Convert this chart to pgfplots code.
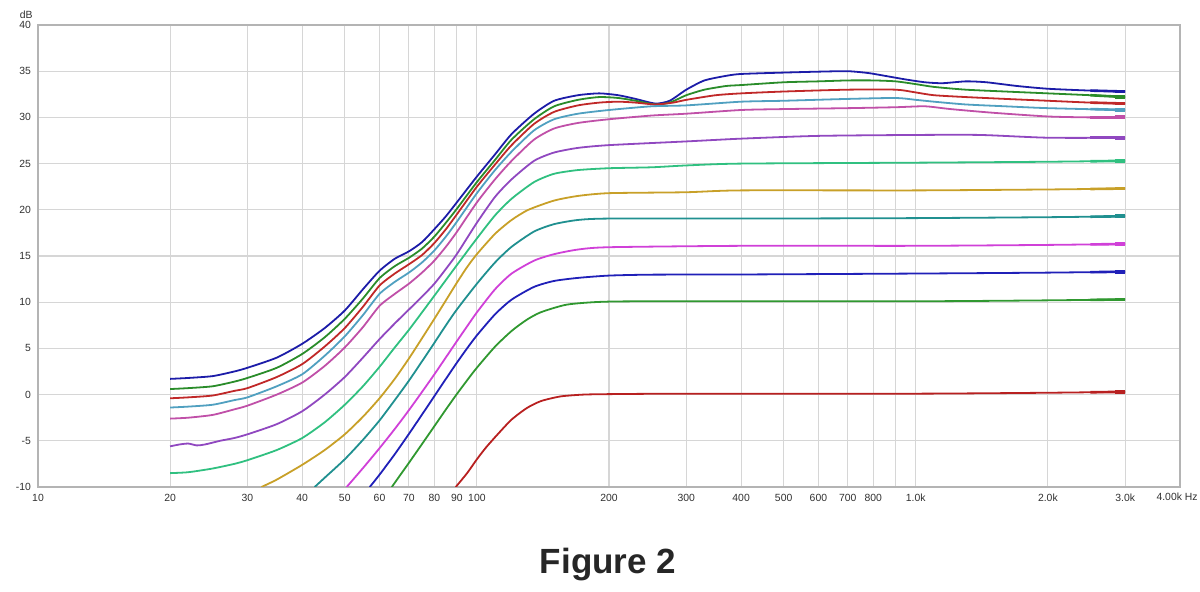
\documentclass[border=0pt]{standalone}
\usepackage{fontspec}
\setmainfont{Liberation Sans}
\usepackage{pgfplots}
\pgfplotsset{compat=1.18}
\definecolor{gridgray}{HTML}{D6D6D6}
\definecolor{framegray}{HTML}{B4B4B4}
\definecolor{labelgray}{HTML}{303030}
\definecolor{cA}{HTML}{1C1CA8}
\definecolor{cB}{HTML}{2A8C2A}
\definecolor{cC}{HTML}{C02828}
\definecolor{cD}{HTML}{50A0C0}
\definecolor{cE}{HTML}{C050A8}
\definecolor{cF}{HTML}{9048C0}
\definecolor{cG}{HTML}{30C080}
\definecolor{cH}{HTML}{C8A028}
\definecolor{cI}{HTML}{209090}
\definecolor{cJ}{HTML}{D040D8}
\definecolor{cK}{HTML}{2020B8}
\definecolor{cL}{HTML}{309830}
\definecolor{cM}{HTML}{B82020}
\newcommand\fz[3]{%
  \addplot[#1, line width=1.3pt, smooth=false] coordinates {(2500,#2) (3000,#3)};
  \addplot[#1, line width=1.9pt, smooth=false] coordinates {(2850,#3) (3000,#3)};}
\begin{document}
\begin{tikzpicture}[x=1pt,y=1pt]
\begin{axis}[
  at={(0,0)}, anchor=south west,
  scale only axis, width=571pt, height=231pt,
  xmode=log, log basis x=10,
  xmin=10, xmax=4000, ymin=-10, ymax=40,
  xtick={10,20,30,40,50,60,70,80,90,100,200,300,400,500,600,700,800,900,1000,2000,3000,4000},
  xticklabels={10,20,30,40,50,60,70,80,90,100,200,300,400,500,600,700,800,{},1.0k,2.0k,3.0k,{}},
  ytick={-10,-5,0,5,10,15,20,25,30,35,40},
  yticklabels={-10,-5,0,5,10,15,20,25,30,35,40},
  minor xtick={},
  major tick length=0pt,
  grid=major,
  major grid style={color=gridgray, line width=0.6pt},
  axis line style={color=framegray, line width=1.2pt},
  tick label style={font=\fontsize{5.2}{6}\selectfont, text=labelgray},
  every axis plot/.append style={line width=0.9pt, smooth, tension=0.4},
  clip=true,
]
% 1 dark blue
\addplot[cA] coordinates {(20,1.7)(22,1.8)(25,2.0)(28,2.5)(30,2.9)(35,4.0)(40,5.5)(45,7.2)(50,9.1)(55,11.4)(60,13.4)(65,14.7)(70,15.5)(75,16.5)(80,17.9)(85,19.3)(90,20.8)(100,23.6)(110,26.0)(120,28.2)(135,30.4)(150,31.8)(170,32.4)(190,32.6)(210,32.4)(230,32.0)(255,31.5)(275,31.8)(300,33.0)(330,34.0)(370,34.5)(400,34.7)(500,34.85)(600,34.95)(700,35.0)(780,34.8)(850,34.5)(950,34.1)(1050,33.8)(1150,33.7)(1300,33.9)(1450,33.8)(1700,33.4)(2000,33.1)(2500,32.9)(3000,32.8)};
% 2 green
\addplot[cB] coordinates {(20,0.6)(22,0.7)(25,0.9)(28,1.4)(30,1.8)(35,2.9)(40,4.4)(45,6.2)(50,8.2)(55,10.4)(60,12.6)(65,13.9)(70,14.8)(75,15.8)(80,17.1)(85,18.6)(90,20.1)(100,23.0)(110,25.4)(120,27.6)(135,29.8)(150,31.2)(170,31.9)(190,32.2)(210,32.1)(230,31.8)(255,31.4)(275,31.6)(300,32.4)(330,33.0)(370,33.4)(400,33.5)(500,33.8)(600,33.9)(700,34.0)(800,34.0)(900,33.9)(1000,33.6)(1100,33.3)(1300,33.0)(1600,32.8)(2000,32.6)(2500,32.4)(3000,32.2)};
% 3 red
\addplot[cC] coordinates {(20,-0.4)(22,-0.3)(25,-0.1)(28,0.4)(30,0.7)(35,1.9)(40,3.3)(45,5.2)(50,7.2)(55,9.5)(60,11.8)(65,13.1)(70,14.1)(75,15.1)(80,16.4)(85,17.9)(90,19.5)(100,22.5)(110,24.9)(120,27.0)(135,29.3)(150,30.6)(170,31.3)(190,31.6)(210,31.7)(230,31.6)(255,31.4)(280,31.6)(300,31.9)(350,32.4)(400,32.6)(500,32.8)(700,33.0)(900,33.0)(1000,32.7)(1100,32.4)(1300,32.2)(1600,32.0)(2000,31.8)(2500,31.6)(3000,31.5)};
% 4 light blue
\addplot[cD] coordinates {(20,-1.4)(22,-1.3)(25,-1.1)(28,-0.6)(30,-0.3)(35,0.9)(40,2.2)(45,4.2)(50,6.3)(55,8.6)(60,10.9)(65,12.2)(70,13.2)(75,14.3)(80,15.6)(85,17.1)(90,18.7)(100,21.8)(110,24.3)(120,26.3)(135,28.6)(150,29.8)(170,30.4)(200,30.8)(250,31.2)(300,31.3)(400,31.7)(500,31.8)(700,32.0)(900,32.1)(1000,31.9)(1100,31.7)(1300,31.4)(1600,31.2)(2000,31.0)(3000,30.8)};
% 5 mauve
\addplot[cE] coordinates {(20,-2.6)(22,-2.5)(25,-2.2)(28,-1.6)(30,-1.2)(35,0.0)(40,1.3)(45,3.1)(50,5.1)(55,7.3)(60,9.6)(65,10.9)(70,12.0)(75,13.2)(80,14.5)(85,16.0)(90,17.6)(100,20.8)(110,23.3)(120,25.3)(135,27.6)(150,28.8)(170,29.4)(200,29.8)(250,30.2)(300,30.4)(400,30.8)(500,30.9)(700,31.0)(900,31.1)(1050,31.2)(1200,30.9)(1500,30.5)(2000,30.1)(2500,30.0)(3000,30.0)};
% 6 purple
\addplot[cF] coordinates {(20,-5.6)(21,-5.4)(22,-5.3)(23,-5.5)(24,-5.4)(26,-5.0)(28,-4.7)(30,-4.3)(35,-3.2)(40,-1.8)(45,0.0)(50,1.9)(55,4.0)(60,6.0)(65,7.7)(70,9.2)(75,10.6)(80,12.0)(85,13.6)(90,15.2)(100,18.6)(110,21.4)(120,23.3)(135,25.3)(150,26.2)(170,26.7)(200,27.0)(300,27.4)(400,27.7)(600,28.0)(1000,28.1)(1400,28.1)(2000,27.8)(3000,27.8)};
% 7 sea green
\addplot[cG] coordinates {(20,-8.5)(22,-8.4)(25,-8.0)(28,-7.5)(30,-7.1)(35,-6.0)(40,-4.7)(45,-3.0)(50,-1.1)(55,0.9)(60,3.0)(65,5.1)(70,7.0)(75,8.9)(80,10.7)(85,12.4)(90,14.0)(100,16.9)(110,19.4)(120,21.2)(135,23.0)(150,23.9)(170,24.3)(200,24.5)(250,24.6)(300,24.8)(400,25.0)(1000,25.1)(2000,25.2)(3000,25.3)};
% 8 gold
\addplot[cH] coordinates {(32.3,-10)(35,-9.2)(40,-7.6)(45,-6.0)(50,-4.3)(55,-2.4)(60,-0.4)(65,1.7)(70,3.9)(75,6.1)(80,8.2)(85,10.2)(90,12.1)(95,13.8)(100,15.2)(110,17.4)(120,18.9)(131,20.0)(150,21.0)(170,21.5)(200,21.8)(300,21.9)(400,22.1)(1000,22.1)(2000,22.2)(3000,22.3)};
% 9 teal
\addplot[cI] coordinates {(42.7,-10)(45,-9.0)(50,-7.0)(55,-4.9)(60,-2.8)(65,-0.6)(70,1.5)(75,3.6)(80,5.6)(85,7.5)(90,9.2)(100,12.0)(110,14.3)(120,16.0)(135,17.65)(150,18.45)(170,18.9)(200,19.05)(400,19.05)(1000,19.1)(2000,19.2)(3000,19.3)};
% 10 magenta
\addplot[cJ] coordinates {(50.5,-10)(55,-7.96)(60,-5.8)(65,-3.72)(70,-1.69)(75,0.29)(80,2.19)(85,4.03)(90,5.77)(95,7.39)(100,8.9)(110,11.4)(120,13.1)(135,14.5)(150,15.2)(170,15.7)(200,15.95)(400,16.1)(1000,16.1)(2000,16.2)(3000,16.3)};
% 11 blue
\addplot[cK] coordinates {(57,-10)(60,-8.67)(65,-6.45)(70,-4.26)(75,-2.16)(80,-0.17)(85,1.70)(90,3.44)(95,5.01)(100,6.41)(110,8.69)(120,10.28)(135,11.66)(150,12.3)(170,12.63)(200,12.88)(250,12.98)(400,13.0)(1000,13.1)(2000,13.2)(3000,13.3)};
% 12 green
\addplot[cL] coordinates {(64,-10)(67,-8.66)(70,-7.39)(75,-5.35)(80,-3.42)(85,-1.61)(90,0.05)(95,1.55)(100,2.91)(110,5.19)(120,6.89)(130,8.11)(140,8.92)(160,9.73)(190,10.03)(250,10.1)(1000,10.1)(2000,10.2)(3000,10.3)};
% 13 red
\addplot[cM] coordinates {(89.5,-10)(95,-8.5)(100,-7.0)(105,-5.7)(112,-4.2)(120,-2.7)(130,-1.45)(140,-0.7)(155,-0.2)(175,0.0)(200,0.05)(300,0.1)(1000,0.1)(2000,0.2)(3000,0.3)};
% fuzzy ends
\fz{cA}{32.9}{32.8}
\fz{cB}{32.4}{32.2}
\fz{cC}{31.6}{31.5}
\fz{cD}{30.9}{30.8}
\fz{cE}{30.0}{30.0}
\fz{cF}{27.8}{27.8}
\fz{cG}{25.25}{25.3}
\fz{cH}{22.25}{22.3}
\fz{cI}{19.25}{19.3}
\fz{cJ}{16.25}{16.3}
\fz{cK}{13.25}{13.3}
\fz{cL}{10.25}{10.3}
\fz{cM}{0.25}{0.3}
\end{axis}
\node[anchor=east, font=\fontsize{5.2}{6}\selectfont, text=labelgray, inner sep=0pt] at (-2.5,236) {dB};
\node[anchor=north east, font=\fontsize{5.2}{6}\selectfont, text=labelgray, inner sep=0pt] at (580,-2.8) {4.00k Hz};
\node[font=\fontsize{17.5}{20}\bfseries\selectfont, text=black!85] at (285,-39) {Figure 2};
\pgfresetboundingbox
\path[use as bounding box] (-19,-52.5) rectangle (581,243.5);
\end{tikzpicture}
\end{document}
